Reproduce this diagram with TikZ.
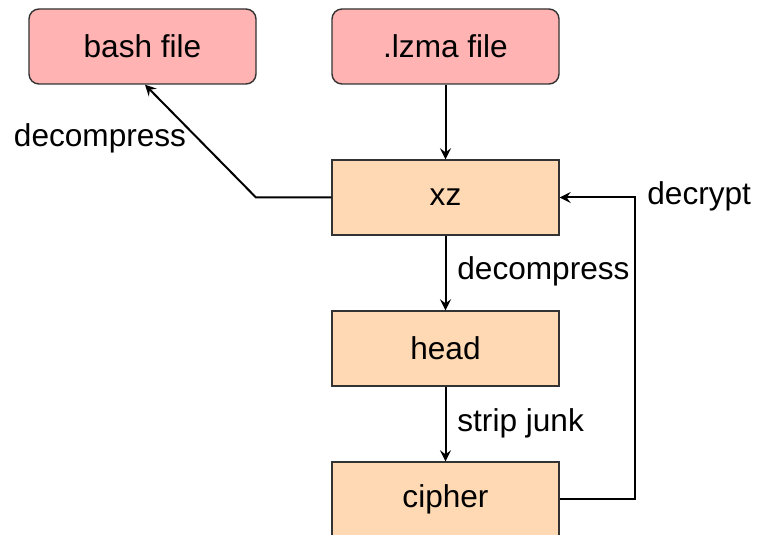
\documentclass[tikz,border=0pt]{standalone}
\usepackage{fontspec}
\setmainfont{Liberation Sans}
\usetikzlibrary{arrows.meta,calc}
\definecolor{pinkfill}{HTML}{FFB3B3}
\definecolor{peachfill}{HTML}{FFD9B3}
\definecolor{edge}{HTML}{333333}
\begin{document}
\begin{tikzpicture}[x=0.5pt,y=-0.5pt,
  box/.style={draw=edge,line width=0.7pt,minimum width=113.5pt,minimum height=37.5pt,inner sep=0pt,font=\fontsize{15.8}{18}\selectfont},
  filebox/.style={box,fill=pinkfill,rounded corners=5pt},
  procbox/.style={box,fill=peachfill},
  lbl/.style={inner sep=0pt,font=\fontsize{15.8}{18}\selectfont},
  conn/.style={line width=1pt,-{Stealth[length=5.5pt,width=5.5pt,inset=2pt]}}]
\useasboundingbox (0,0) rectangle (762,535);
\clip (0,0) rectangle (762,535);
\node[filebox] (bash) at (142.5,46.5) {bash file};
\node[filebox] (lzma) at (445.5,46.5) {.lzma file};
\node[procbox] (xz) at (445.5,197.5) {xz};
\node[procbox] (head) at (445.5,348.5) {head};
\node[procbox] (cipher) at (445.5,499.5) {cipher};
\coordinate (bend) at (256,197.5);
\coordinate (rtop) at (635,197.5);
\coordinate (rbot) at (635,499.5);
\draw[conn] (lzma.south) -- (xz.north);
\draw[conn] (xz.west) -- (bend) -- ($(bash.south)+(2.5,0)$);
\draw[conn] (xz.south) -- (head.north);
\draw[conn] (head.south) -- (cipher.north);
\draw[conn] (cipher.east) -- (rbot) -- (rtop) -- (xz.east);
\node[lbl] (l1) at (100,138) {decompress};
\node[lbl,anchor=west] (l2) at (457,271) {decompress};
\node[lbl,anchor=west] (l3) at (457,423) {strip junk};
\node[lbl,anchor=west] (l4) at (647,196) {decrypt};
\end{tikzpicture}
\end{document}
